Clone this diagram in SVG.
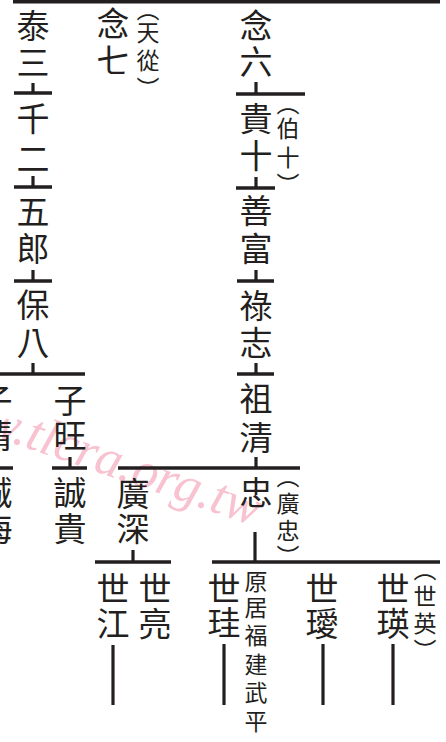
<svg xmlns="http://www.w3.org/2000/svg" width="446" height="742" viewBox="0 0 446 742">
<style>
  .n { font-family: "Noto Sans CJK TC", "Noto Sans CJK SC", sans-serif; font-size: 33px; fill: #231f20; text-anchor: middle; }
  .s { font-family: "Noto Sans CJK TC", "Noto Sans CJK SC", sans-serif; font-size: 23px; fill: #231f20; text-anchor: middle; }
  .bar { stroke: #231f20; stroke-width: 3.6; fill: none; }
  .tick { stroke: #231f20; stroke-width: 3.2; fill: none; }
  .wm { font-family: "Liberation Serif", "DejaVu Serif", serif; font-style: italic; font-size: 52px; fill: #f8c2d0; }
</style>
<rect width="446" height="742" fill="#ffffff"/>
<text class="wm" x="254" y="526" text-anchor="end" transform="rotate(19 254 526)">www.tlcra.org.tw</text>
<g id="connectors">
  <line class="bar" x1="13" y1="1.7" x2="440" y2="1.7" stroke-width="3.4"/>
  <line class="tick" x1="33" y1="83" x2="33" y2="93"/>
  <line class="bar" x1="14" y1="93" x2="52" y2="93"/>
  <line class="tick" x1="33" y1="176" x2="33" y2="187"/>
  <line class="bar" x1="14" y1="187" x2="52" y2="187"/>
  <line class="tick" x1="33" y1="270" x2="33" y2="281"/>
  <line class="bar" x1="14" y1="281" x2="52" y2="281"/>
  <line class="tick" x1="33" y1="363" x2="33" y2="374"/>
  <line class="bar" x1="0" y1="374" x2="85" y2="374"/>
  <line class="bar" x1="-21" y1="468" x2="13" y2="468"/>
  <line class="tick" x1="70" y1="457" x2="70" y2="468"/>
  <line class="bar" x1="52" y1="468" x2="87" y2="468"/>
  <line class="tick" x1="256" y1="82" x2="256" y2="94"/>
  <line class="bar" x1="236" y1="94" x2="305" y2="94"/>
  <line class="tick" x1="256" y1="177" x2="256" y2="188"/>
  <line class="bar" x1="236" y1="188" x2="275" y2="188"/>
  <line class="tick" x1="256" y1="270" x2="256" y2="281"/>
  <line class="bar" x1="237" y1="281" x2="274" y2="281"/>
  <line class="tick" x1="256" y1="363" x2="256" y2="374"/>
  <line class="bar" x1="237" y1="374" x2="274" y2="374"/>
  <line class="tick" x1="256" y1="457" x2="256" y2="468"/>
  <line class="bar" x1="118" y1="468" x2="300" y2="468"/>
  <line class="tick" x1="255" y1="532" x2="255" y2="562"/>
  <line class="bar" x1="212" y1="562" x2="440" y2="562"/>
  <line class="tick" x1="133" y1="550" x2="133" y2="562"/>
  <line class="bar" x1="95" y1="562" x2="171" y2="562"/>
  <line class="tick" x1="113" y1="645" x2="113" y2="705" stroke-width="3.6"/>
  <line class="tick" x1="224" y1="644" x2="224" y2="705" stroke-width="3.6"/>
  <line class="tick" x1="323" y1="644" x2="323" y2="705" stroke-width="3.6"/>
  <line class="tick" x1="393" y1="644" x2="393" y2="705" stroke-width="3.6"/>
</g>
<g id="n-tai-san"><text class="n"><tspan x="33" y="37.5">泰</tspan><tspan x="33" y="74.5">三</tspan></text></g>
<g id="n-qian-er"><text class="n"><tspan x="33" y="130.5">千</tspan><tspan x="33" y="170.5">二</tspan></text></g>
<g id="n-wu-lang"><text class="n"><tspan x="33" y="223.5">五</tspan><tspan x="33" y="260.5">郎</tspan></text></g>
<g id="n-bao-ba"><text class="n"><tspan x="33" y="316.5">保</tspan><tspan x="33" y="354.5">八</tspan></text></g>
<g id="n-zi-qing"><text class="n"><tspan x="-4" y="412.5">子</tspan><tspan x="-4" y="447.5">清</tspan></text></g>
<g id="n-cheng-hai"><text class="n"><tspan x="-4" y="504.5">誠</tspan><tspan x="-4" y="540.5">海</tspan></text></g>
<g id="n-zi-wang"><text class="n"><tspan x="70" y="412.5">子</tspan><tspan x="70" y="447.5">旺</tspan></text></g>
<g id="n-cheng-gui"><text class="n"><tspan x="70" y="504.5">誠</tspan><tspan x="70" y="540.5">貴</tspan></text></g>
<g id="n-nian-qi">
  <text class="n"><tspan x="113" y="35.5">念</tspan><tspan x="113" y="72.5">七</tspan></text>
  <text class="s"><tspan x="148" y="18">︵</tspan><tspan x="148" y="40.7">天</tspan><tspan x="148" y="68.7">從</tspan><tspan x="148" y="97">︶</tspan></text>
</g>
<g id="n-nian-liu"><text class="n"><tspan x="256" y="37.5">念</tspan><tspan x="256" y="73.5">六</tspan></text></g>
<g id="n-gui-shi">
  <text class="n"><tspan x="256" y="130.5">貴</tspan><tspan x="256" y="167.5">十</tspan></text>
  <text class="s"><tspan x="288" y="112">︵</tspan><tspan x="288" y="136.7">伯</tspan><tspan x="288" y="165.7">十</tspan><tspan x="288" y="193">︶</tspan></text>
</g>
<g id="n-shan-fu"><text class="n"><tspan x="256" y="222.5">善</tspan><tspan x="256" y="260.5">富</tspan></text></g>
<g id="n-lu-zhi"><text class="n"><tspan x="256" y="317.5">祿</tspan><tspan x="256" y="354.5">志</tspan></text></g>
<g id="n-zu-qing"><text class="n"><tspan x="256" y="410.5">祖</tspan><tspan x="256" y="449.5">清</tspan></text></g>
<g id="n-guang-shen"><text class="n"><tspan x="133" y="505.5">廣</tspan><tspan x="133" y="540.5">深</tspan></text></g>
<g id="n-zhong">
  <text class="n"><tspan x="256" y="504.5">忠</tspan></text>
  <text class="s"><tspan x="288" y="485">︵</tspan><tspan x="288" y="511.7">廣</tspan><tspan x="288" y="538.7">忠</tspan><tspan x="288" y="565">︶</tspan></text>
</g>
<g id="n-shi-jiang"><text class="n"><tspan x="113" y="600.5">世</tspan><tspan x="113" y="635.5">江</tspan></text></g>
<g id="n-shi-liang"><text class="n"><tspan x="155" y="600.5">世</tspan><tspan x="155" y="635.5">亮</tspan></text></g>
<g id="n-shi-gui">
  <text class="n"><tspan x="224" y="600.5">世</tspan><tspan x="224" y="634.5">珪</tspan></text>
  <text class="s"><tspan x="256" y="589.7">原</tspan><tspan x="256" y="615.7">居</tspan><tspan x="256" y="643.7">福</tspan><tspan x="256" y="672.7">建</tspan><tspan x="256" y="700.7">武</tspan><tspan x="256" y="729.7">平</tspan></text>
</g>
<g id="n-shi-ai"><text class="n"><tspan x="322" y="600.5">世</tspan><tspan x="322" y="635.5">璦</tspan></text></g>
<g id="n-shi-ying">
  <text class="n"><tspan x="393" y="600.5">世</tspan><tspan x="393" y="635.5">瑛</tspan></text>
  <text class="s"><tspan x="425" y="578">︵</tspan><tspan x="425" y="604.7">世</tspan><tspan x="425" y="631.7">英</tspan><tspan x="425" y="659">︶</tspan></text>
</g>
</svg>
